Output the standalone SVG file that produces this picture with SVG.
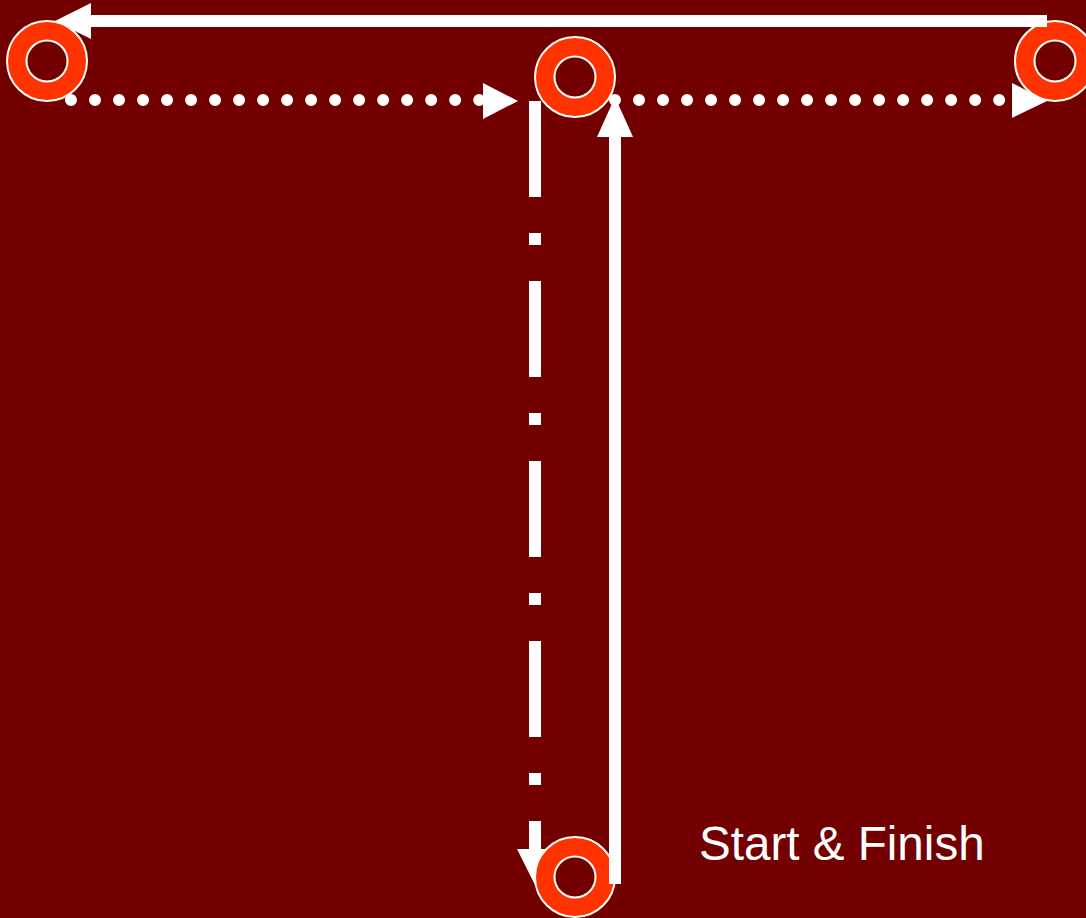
<svg xmlns="http://www.w3.org/2000/svg" width="1086" height="918" viewBox="0 0 1086 918">
  <style>
    .cone-outer { fill: #FF3300; stroke: #FFFFFF; stroke-width: 2; }
    .cone-inner { fill: #730000; stroke: #FFFFFF; stroke-width: 2; }
    .line { fill: none; stroke: #FFFFFF; stroke-width: 12; }
    .dots { fill: none; stroke: #FFFFFF; stroke-width: 12; stroke-linecap: round; stroke-dasharray: 0.01 24; }
    .dashdot { fill: none; stroke: #FFFFFF; stroke-width: 12; stroke-dasharray: 96 36 12 36; }
    .head { fill: #FFFFFF; }
    .label { font-family: "Liberation Sans", Arial, sans-serif; font-size: 47.6px; fill: #FFFFFF; }
  </style>
  <rect x="0" y="0" width="1086" height="918" fill="#730000"/>

  <g id="connectors-back">
    <line class="dashdot" x1="535" y1="101" x2="535" y2="849"/>
    <polygon class="head" points="517,849 553,849 535,885"/>
  </g>

  <g id="cone-top-left">
    <circle class="cone-outer" cx="47" cy="61" r="40"/>
    <circle class="cone-inner" cx="47" cy="61" r="20.5"/>
  </g>
  <g id="cone-top-middle">
    <circle class="cone-outer" cx="575" cy="77" r="40"/>
    <circle class="cone-inner" cx="575" cy="77" r="20.5"/>
  </g>
  <g id="cone-top-right">
    <circle class="cone-outer" cx="1055" cy="61" r="40"/>
    <circle class="cone-inner" cx="1055" cy="61" r="20.5"/>
  </g>
  <g id="cone-bottom">
    <circle class="cone-outer" cx="575" cy="877" r="40"/>
    <circle class="cone-inner" cx="575" cy="877" r="20.5"/>
  </g>

  <g id="connectors">
    <line class="dots" x1="71" y1="100" x2="480" y2="100"/>
    <polygon class="head" points="483,83 483,119 518,101"/>
    <line class="dots" x1="615" y1="100" x2="1000" y2="100"/>
    <polygon class="head" points="1012,83 1012,118 1047,101"/>
    <line class="line" x1="615" y1="884" x2="615" y2="136"/>
    <polygon class="head" points="597,137 633,137 615,97"/>
    <line class="line" x1="1047" y1="21" x2="90" y2="21"/>
    <polygon class="head" points="91,3 91,39 55,21"/>
  </g>

  <g id="label-start-finish">
    <text class="label" x="699" y="860">Start &amp; Finish</text>
  </g>
</svg>
